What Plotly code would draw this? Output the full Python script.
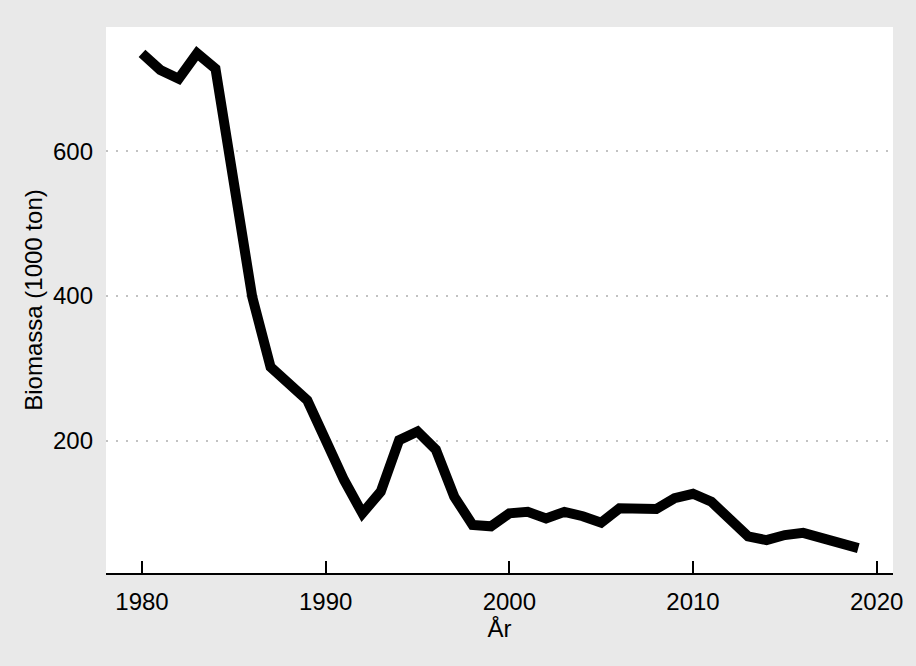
import plotly.graph_objects as go

years = list(range(1980, 2020))
biomass = [735, 712, 700, 735, 714, 545, 399, 302, 280, 256,
           201, 146, 100, 130, 201, 213, 188, 123, 84, 82,
           100, 102, 93, 102, 96, 87, 107, 106, 106, 121,
           127, 116, 92, 68, 63, 70, 73, 66, 59, 52]

x_ticks = [1980, 1990, 2000, 2010, 2020]
y_ticks = [200, 400, 600]

FONT = "Liberation Sans, Arial, Helvetica, sans-serif"

fig = go.Figure()
fig.add_trace(go.Scatter(
    x=years, y=biomass, mode="lines",
    line=dict(color="black", width=10, shape="linear"),
    hoverinfo="x+y", showlegend=False,
))

fig.update_layout(
    width=916, height=666,
    paper_bgcolor="#e9e9e9",
    plot_bgcolor="white",
    margin=dict(l=106, r=23, t=27, b=93),
    font=dict(family=FONT, size=24, color="black"),
    xaxis=dict(
        range=[1978.04, 2020.89],
        tickvals=x_ticks,
        ticks="inside", ticklen=12, tickwidth=1.5, tickcolor="black",
        showline=True, linecolor="black", linewidth=1.5,
        showgrid=False, zeroline=False,
        ticklabelstandoff=6,
        title=dict(text="År", standoff=0, font=dict(size=24)),
    ),
    yaxis=dict(
        range=[17.6, 771.4],
        tickvals=y_ticks,
        ticks="", showline=False, zeroline=False,
        showgrid=True, gridcolor="#c2c2c2", gridwidth=1.5, griddash="2px,8px",
        ticklabelstandoff=12,
        title=dict(text="Biomassa (1000 ton)", standoff=3, font=dict(size=24)),
    ),
)

fig.write_html(
    "out.html",
    config={"displayModeBar": False},
    post_script="document.body.style.margin='0';document.body.style.background='#e9e9e9';",
)
